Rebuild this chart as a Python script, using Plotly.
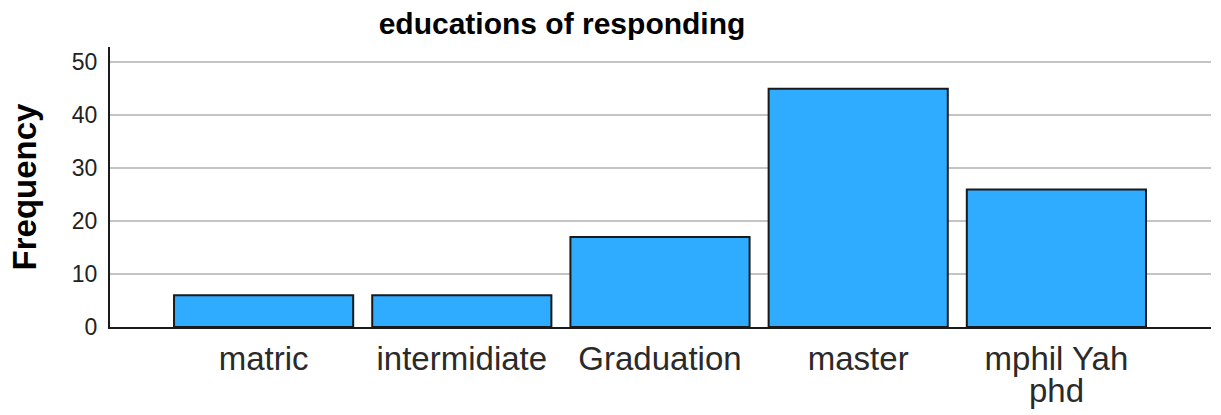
import plotly.graph_objects as go

categories = ["matric", "intermidiate", "Graduation", "master", "mphil Yah phd"]
label_lines = [["matric"], ["intermidiate"], ["Graduation"], ["master"], ["mphil Yah", "phd"]]
frequency = [6, 6, 17, 45, 26]
y_ticks = [0, 10, 20, 30, 40, 50]

fig = go.Figure()
fig.add_trace(go.Bar(
    x=categories,
    y=frequency,
    marker=dict(color="rgb(47,171,255)", line=dict(color="#1a1a1a", width=2)),
    width=0.904,
))

# extra lines of wrapped category labels, placed through the x axis scale
for cat, lines in zip(categories, label_lines):
    for i, line in enumerate(lines[1:], start=1):
        fig.add_annotation(
            x=cat, xref="x",
            y=0, yref="y",
            yshift=-43 - 31 * (i - 1),
            text=line,
            showarrow=False,
            yanchor="top",
            font=dict(size=33, color="#2a2a2a", family="Liberation Sans, Arial, sans-serif"),
        )

fig.update_layout(
    width=1221,
    height=415,
    margin=dict(l=110, r=10, t=47, b=88),
    paper_bgcolor="white",
    plot_bgcolor="white",
    showlegend=False,
    font=dict(family="Liberation Sans, Arial, sans-serif", color="#1a1a1a"),
    title=dict(
        text="<b>educations of responding</b>",
        x=562 / 1221,
        xanchor="center",
        xref="container",
        y=0.943,
        yanchor="middle",
        yref="container",
        font=dict(size=30, color="black"),
    ),
    xaxis=dict(
        range=[-0.775, 4.78],
        tickvals=categories,
        ticktext=[lines[0] for lines in label_lines],
        showgrid=False,
        showline=True,
        linecolor="#1a1a1a",
        linewidth=2,
        ticks="",
        tickfont=dict(size=33, color="#2a2a2a"),
        ticklabelstandoff=1,
        automargin=False,
        fixedrange=True,
    ),
    yaxis=dict(
        range=[0, 52.9],
        tickvals=y_ticks,
        showgrid=True,
        gridcolor="#c4c4c4",
        gridwidth=2,
        showline=True,
        linecolor="#1a1a1a",
        linewidth=2,
        ticks="",
        tickfont=dict(size=23, color="#222222"),
        ticklabelstandoff=6,
        zeroline=False,
        automargin=False,
        title=dict(text="<b>Frequency</b>", font=dict(size=33, color="black"), standoff=25),
        fixedrange=True,
    ),
)

fig.write_html(
    "out.html",
    config={"displayModeBar": False},
    post_script="document.body.style.margin='0';document.body.style.overflow='hidden';",
)
